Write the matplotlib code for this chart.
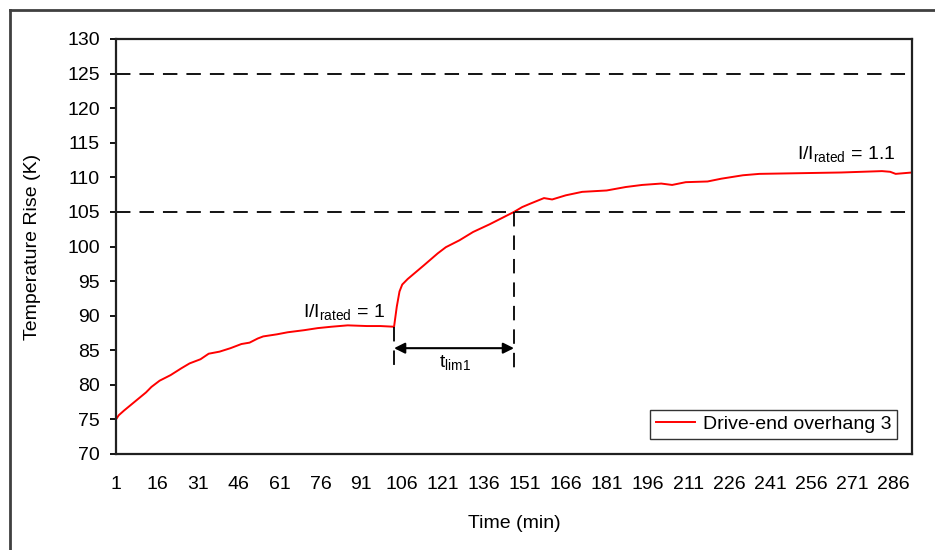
import numpy as np
import matplotlib
matplotlib.use("Agg")
import matplotlib.pyplot as plt
from matplotlib.lines import Line2D

plt.rcParams['font.family'] = ['Liberation Sans', 'DejaVu Sans']
plt.rcParams['mathtext.fontset'] = 'custom'
plt.rcParams['mathtext.rm'] = 'Liberation Sans'
plt.rcParams['mathtext.it'] = 'Liberation Sans'

# measured temperature rise of drive-end overhang 3
time_min = [1, 2, 4, 8, 12, 14, 17, 21, 25, 28, 32, 35, 39, 43, 47, 50, 53, 55,
            60, 64, 70, 75, 80, 86, 93, 98, 103, 104, 105, 106, 108, 111, 114,
            119, 122, 127, 132, 138, 143, 147, 150, 153, 158, 161, 166, 172,
            181, 188, 194, 201, 205, 210, 218, 223, 231, 237, 252, 267, 282,
            285, 287, 290, 293]
temp_rise = [75.0, 75.6, 76.3, 77.6, 78.9, 79.7, 80.6, 81.4, 82.4, 83.1, 83.7,
             84.5, 84.8, 85.3, 85.9, 86.1, 86.7, 87.0, 87.3, 87.6, 87.9, 88.2,
             88.4, 88.6, 88.5, 88.5, 88.4, 91.3, 93.5, 94.5, 95.3, 96.3, 97.3,
             99.0, 99.9, 100.9, 102.1, 103.2, 104.2, 105.0, 105.7, 106.2, 107.0,
             106.8, 107.4, 107.9, 108.1, 108.6, 108.9, 109.1, 108.9, 109.3,
             109.4, 109.8, 110.3, 110.5, 110.6, 110.7, 110.9, 110.8, 110.5,
             110.6, 110.7]

limit_levels = [105, 125]       # horizontal reference lines (K)
t_step = 103                    # load raised to 1.1 x rated
t_limit = 147                   # 105 K reached
x_ticks = list(range(1, 287, 15))
y_ticks = list(range(70, 131, 5))

fig = plt.figure(figsize=(9.35, 5.5), dpi=100)
ax = fig.add_axes([116 / 935, 96 / 550, 796 / 935, 415 / 550])

ax.plot(time_min, temp_rise, color='#ff0000', lw=1.4, label='Drive-end overhang 3')

for lvl in limit_levels:
    ax.axhline(lvl, color='black', lw=1.3, dashes=(8, 5))

# vertical markers from the curve down past the arrow
T_step = temp_rise[time_min.index(t_step)]
T_lim = temp_rise[time_min.index(t_limit)]
ax.plot([t_step, t_step], [T_step, 81.7], color='black', lw=1.3, dashes=(8, 5))
ax.plot([t_limit, t_limit], [T_lim, 81.4], color='black', lw=1.3, dashes=(8, 5))

ax.annotate('', xy=(t_step, 85.3), xytext=(t_limit, 85.3),
            arrowprops=dict(arrowstyle='<|-|>', color='black', lw=1.5,
                            mutation_scale=16, shrinkA=0, shrinkB=0))
ax.text(119.6, 82.6, r't$_{\mathrm{lim1}}$', fontsize=14, ha='left', va='baseline')
ax.text(69.6, 89.85, r'I/I$_{\mathrm{rated}}$ = 1', fontsize=14, ha='left', va='baseline')
ax.text(250.9, 112.6, r'I/I$_{\mathrm{rated}}$ = 1.1', fontsize=14, ha='left', va='baseline')

ax.set_xlim(1, 293)
ax.set_ylim(70, 130)
ax.set_xticks(x_ticks)
ax.set_yticks(y_ticks)
ax.tick_params(axis='x', length=0, pad=16, labelsize=14)
ax.tick_params(axis='y', length=4.5, width=1.3, pad=7, labelsize=14)
for sp in ax.spines.values():
    sp.set_linewidth(1.6)
    sp.set_color('#202020')

ax.set_xlabel('Time (min)', fontsize=14)
ax.set_ylabel('Temperature Rise (K)', fontsize=14)
ax.xaxis.set_label_coords(0.5, -0.147)
ax.yaxis.set_label_coords(-0.094, 0.5)

leg = ax.legend(loc='lower right', bbox_to_anchor=(0.981, 0.036), fontsize=14,
                frameon=True, fancybox=False, borderpad=0.3, handlelength=2.0,
                handletextpad=0.4, borderaxespad=0)
leg.get_frame().set_edgecolor('black')
leg.get_frame().set_linewidth(1.0)

# chart area border (left and top edges)
fig.add_artist(Line2D([10 / 935, 10 / 935], [0, 1 - 10 / 550], color='#404040', lw=2))
fig.add_artist(Line2D([10 / 935, 1], [1 - 10 / 550, 1 - 10 / 550], color='#404040', lw=2))

fig.savefig('out.png', dpi=100)
